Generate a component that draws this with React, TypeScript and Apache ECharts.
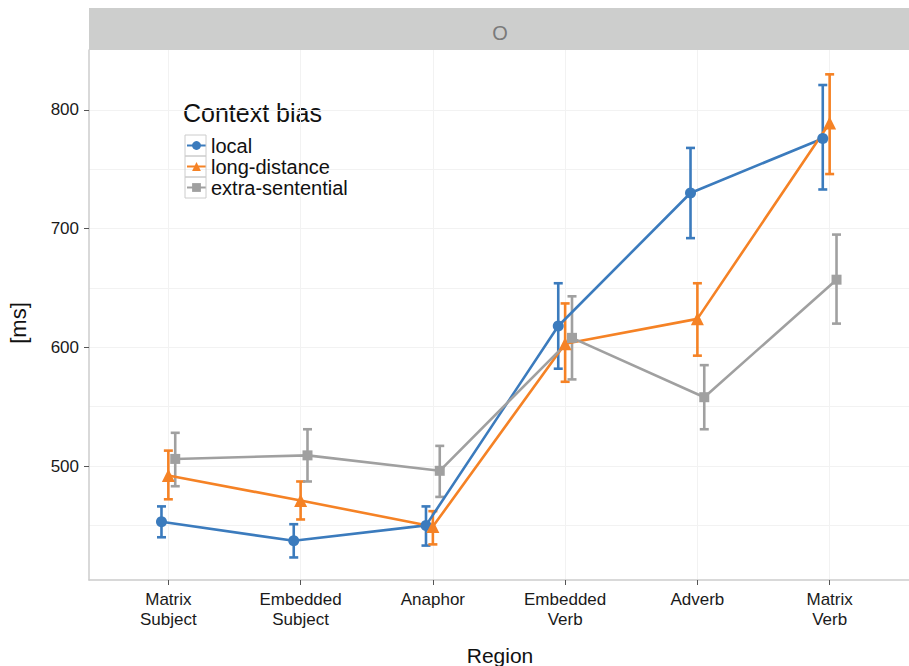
import React, { useEffect, useRef } from "react";
import * as echarts from "echarts";

const categories = ["Matrix\nSubject", "Embedded\nSubject", "Anaphor", "Embedded\nVerb", "Adverb", "Matrix\nVerb"];
const seriesNames = ["local", "long-distance", "extra-sentential"];
const localMean = [453, 437, 450, 618, 730, 776];
const localLow = [440, 423, 433, 582, 692, 733];
const localHigh = [466, 451, 466, 654, 768, 821];
const longMean = [492, 471, 449, 603, 624, 789];
const longLow = [472, 455, 434, 571, 593, 746];
const longHigh = [513, 487, 462, 637, 654, 830];
const extraMean = [506, 509, 496, 608, 558, 657];
const extraLow = [483, 487, 474, 573, 531, 620];
const extraHigh = [528, 531, 517, 643, 585, 695];
const yTicks = [500, 600, 700, 800];
const yGridTicks = [450, 500, 550, 600, 650, 700, 750, 800];
const facetLabel = "O";
const legendTitle = "Context bias";
const xTitle = "Region";
const yTitle = "[ms]";

const colors = ["#3b7bbd", "#f58225", "#a0a0a0"];
const symbols = ["circle", "triangle", "rect"];
const symbolSizes = [11, 13, 10];
const dodge = [-0.052, 0, 0.052];

export default function App() {
  const ref = useRef<HTMLDivElement>(null);
  useEffect(() => {
    if (!ref.current) return;
    const chart = echarts.init(ref.current, null, { renderer: "svg" });
    const means = [localMean, longMean, extraMean];
    const lows = [localLow, longLow, extraLow];
    const highs = [localHigh, longHigh, extraHigh];
    const font = "Liberation Sans, Arial, sans-serif";

    const series: any[] = [];
    seriesNames.forEach((name, s) => {
      series.push({
        type: "custom",
        name: name + "-err",
        xAxisIndex: 0,
        yAxisIndex: 0,
        silent: true,
        z: 3,
        data: means[s].map((_, i) => [i + dodge[s], lows[s][i], highs[s][i]]),
        renderItem: (params: any, api: any) => {
          const x = api.value(0);
          const lo = api.coord([x, api.value(1)]);
          const hi = api.coord([x, api.value(2)]);
          const hw = 4.5;
          const style = { stroke: colors[s], lineWidth: 2.6 };
          return {
            type: "group",
            children: [
              { type: "line", shape: { x1: lo[0], y1: lo[1], x2: hi[0], y2: hi[1] }, style },
              { type: "line", shape: { x1: lo[0] - hw, y1: lo[1], x2: lo[0] + hw, y2: lo[1] }, style },
              { type: "line", shape: { x1: hi[0] - hw, y1: hi[1], x2: hi[0] + hw, y2: hi[1] }, style },
            ],
          };
        },
      });
    });
    seriesNames.forEach((name, s) => {
      series.push({
        type: "line",
        name,
        xAxisIndex: 0,
        yAxisIndex: 0,
        z: 4,
        data: means[s].map((v, i) => [i + dodge[s], v]),
        symbol: symbols[s],
        symbolSize: symbolSizes[s],
        showAllSymbol: true,
        lineStyle: { color: colors[s], width: 2.6 },
        itemStyle: { color: colors[s] },
        emphasis: { disabled: true },
      });
    });

    chart.setOption({
      animation: false,
      backgroundColor: "#ffffff",
      textStyle: { fontFamily: font },
      grid: { left: 89, right: 0, top: 50, bottom: 86, containLabel: false },
      xAxis: [
        {
          type: "value",
          min: -0.6,
          max: 5.6,
          axisLine: { show: true, onZero: false, lineStyle: { color: "#cccccc", width: 1.5 } },
          axisTick: { show: true, length: 5, customValues: [0, 1, 2, 3, 4, 5], lineStyle: { color: "#555555" } },
          axisLabel: {
            customValues: [0, 1, 2, 3, 4, 5],
            formatter: (v: number) => categories[Math.round(v)] ?? "",
            fontSize: 17,
            lineHeight: 20,
            color: "#1a1a1a",
            margin: 9,
            fontFamily: font,
          },
          splitLine: { show: true, lineStyle: { color: "#f2f2f2", width: 1 } },
        },
      ],
      yAxis: [
        {
          type: "value",
          min: 404,
          max: 850.5,
          axisLine: { show: true, onZero: false, lineStyle: { color: "#cccccc", width: 1.5 } },
          axisTick: { show: false, customValues: yGridTicks },
          axisLabel: { show: false, customValues: yGridTicks },
          splitLine: { show: true, lineStyle: { color: "#f2f2f2", width: 1 } },
        },
        {
          type: "value",
          position: "left",
          min: 404,
          max: 850.5,
          axisLine: { show: false, onZero: false },
          axisTick: { show: true, length: 5, customValues: yTicks, lineStyle: { color: "#555555" } },
          axisLabel: {
            customValues: yTicks,
            fontSize: 17,
            color: "#1a1a1a",
            margin: 10,
            fontFamily: font,
          },
          splitLine: { show: false },
        },
      ],
      legend: {
        show: true,
        data: seriesNames,
        orient: "vertical",
        left: 186,
        top: 135,
        padding: 0,
        itemWidth: 19,
        itemHeight: 11,
        itemGap: 0,
        itemTextGap: 4,
        selectedMode: false,
        textStyle: { fontSize: 20, lineHeight: 21, color: "#111111", fontFamily: font },
      },
      graphic: [
        {
          type: "rect",
          shape: { x: 89, y: 8, width: 820, height: 42 },
          style: { fill: "#cdcecd" },
          silent: true,
        },
        {
          type: "text",
          x: 500,
          y: 33,
          style: { text: facetLabel, fill: "#7a7a7a", fontSize: 20, fontFamily: font, align: "center", verticalAlign: "middle" },
          silent: true,
        },
        {
          type: "text",
          x: 183,
          y: 113,
          style: { text: legendTitle, fill: "#111111", fontSize: 25, fontFamily: font, align: "left", verticalAlign: "middle" },
          silent: true,
        },
        ...[0, 1, 2].map((i) => ({
          type: "rect",
          shape: { x: 185, y: 135 + i * 21, width: 21, height: 21 },
          style: { fill: "none", stroke: "#cccccc", lineWidth: 1 },
          silent: true,
          z: 100,
        })),
        {
          type: "text",
          x: 500,
          y: 655,
          style: { text: xTitle, fill: "#111111", fontSize: 21, fontFamily: font, align: "center", verticalAlign: "middle" },
          silent: true,
        },
        {
          type: "text",
          x: 18,
          y: 323,
          rotation: Math.PI / 2,
          style: { text: yTitle, fill: "#111111", fontSize: 22, fontFamily: font, align: "center", verticalAlign: "middle" },
          silent: true,
        },
      ],
      series,
    });
    return () => chart.dispose();
  }, []);
  return <div ref={ref} style={{ position: "fixed", left: 0, top: 0, width: 909, height: 666 }} />;
}
